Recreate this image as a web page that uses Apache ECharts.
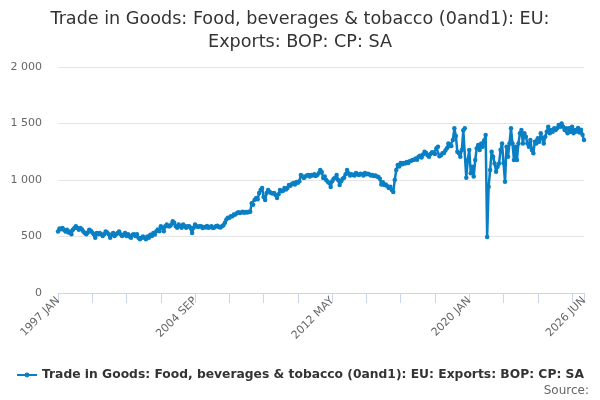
<!DOCTYPE html>
<html>
<head>
<meta charset="utf-8">
<script src="https://cdn.jsdelivr.net/npm/echarts@6/dist/echarts.min.js"></script>
<style>
  html, body { margin: 0; padding: 0; background: #fff; }
  #chart { width: 600px; height: 400px; }
</style>
</head>
<body>
<div id="chart"></div>
<script>
var titleText = 'Trade in Goods: Food, beverages & tobacco (0and1): EU:\nExports: BOP: CP: SA';
var seriesName = 'Trade in Goods: Food, beverages & tobacco (0and1): EU: Exports: BOP: CP: SA';
var monthNames = ['JAN', 'FEB', 'MAR', 'APR', 'MAY', 'JUN', 'JUL', 'AUG', 'SEP', 'OCT', 'NOV', 'DEC'];
var firstYear = 1997;
var yTicks = [0, 500, 1000, 1500, 2000];

// monthly values, one row per year
var v1997 = [545, 570, 565, 575, 560, 545, 560, 535, 545, 520, 560, 575];
var v1998 = [590, 575, 560, 575, 565, 545, 530, 520, 535, 560, 550, 535];
var v1999 = [520, 490, 530, 520, 530, 520, 505, 520, 545, 535, 520, 490];
var v2000 = [515, 530, 505, 520, 530, 545, 520, 505, 515, 530, 505, 520];
var v2001 = [500, 490, 515, 520, 505, 520, 490, 475, 490, 500, 490, 475];
var v2002 = [500, 488, 515, 505, 530, 518, 547, 562, 547, 590, 577, 547];
var v2003 = [591, 606, 591, 591, 606, 636, 621, 591, 577, 606, 591, 577];
var v2004 = [606, 591, 577, 591, 591, 577, 532, 577, 606, 591, 585, 590];
var v2005 = [590, 575, 585, 580, 592, 578, 585, 590, 575, 580, 590, 595];
var v2006 = [585, 580, 590, 600, 621, 650, 665, 665, 680, 680, 695, 695];
var v2007 = [705, 715, 708, 712, 718, 710, 716, 712, 720, 718, 795, 780];
var v2008 = [825, 840, 830, 885, 912, 930, 850, 823, 885, 912, 895, 885];
var v2009 = [880, 885, 867, 840, 875, 912, 900, 905, 929, 915, 930, 956];
var v2010 = [950, 965, 973, 960, 982, 975, 990, 1044, 1030, 1018, 1030, 1040];
var v2011 = [1044, 1030, 1045, 1040, 1050, 1035, 1045, 1060, 1088, 1070, 1018, 1030];
var v2012 = [1000, 985, 973, 938, 990, 1010, 1018, 1044, 1000, 956, 990, 1010];
var v2013 = [1020, 1050, 1088, 1060, 1040, 1050, 1045, 1040, 1062, 1050, 1045, 1055];
var v2014 = [1050, 1040, 1062, 1050, 1055, 1048, 1040, 1045, 1035, 1040, 1030, 1027];
var v2015 = [1010, 960, 980, 956, 960, 945, 929, 940, 912, 894, 1000, 1088];
var v2016 = [1133, 1120, 1150, 1140, 1150, 1145, 1160, 1150, 1165, 1170, 1177, 1180];
var v2017 = [1190, 1180, 1205, 1215, 1200, 1225, 1250, 1240, 1220, 1205, 1230, 1245];
var v2018 = [1240, 1230, 1280, 1295, 1210, 1220, 1236, 1240, 1260, 1280, 1324, 1300];
var v2019 = [1300, 1354, 1457, 1390, 1250, 1240, 1206, 1265, 1440, 1457, 1020, 1177];
var v2020 = [1265, 1059, 1118, 1030, 1177, 1280, 1310, 1265, 1324, 1295, 1350, 1398];
var v2021 = [496, 941, 1088, 1250, 1206, 1147, 1074, 1118, 1147, 1265, 1324, 1150];
var v2022 = [985, 1295, 1206, 1324, 1457, 1324, 1177, 1295, 1177, 1324, 1413, 1442];
var v2023 = [1324, 1413, 1383, 1324, 1295, 1354, 1265, 1236, 1339, 1324, 1369, 1339];
var v2024 = [1413, 1369, 1324, 1383, 1428, 1472, 1413, 1442, 1428, 1457, 1442, 1457];
var v2025 = [1487, 1472, 1501, 1472, 1442, 1457, 1413, 1457, 1428, 1472, 1413, 1442];
var v2026 = [1430, 1460, 1420, 1445, 1400, 1354];

var values = [].concat(v1997, v1998, v1999, v2000, v2001, v2002, v2003, v2004, v2005,
    v2006, v2007, v2008, v2009, v2010, v2011, v2012, v2013, v2014, v2015, v2016,
    v2017, v2018, v2019, v2020, v2021, v2022, v2023, v2024, v2025, v2026);

var months = [];
for (var i = 0; i < values.length; i++) {
    months.push((firstYear + Math.floor(i / 12)) + ' ' + monthNames[i % 12]);
}
var lastIdx = months.length - 1;

function spaced(v) {
    return String(v).replace(/\B(?=(\d{3})+(?!\d))/g, ' ');
}

var chart = echarts.init(document.getElementById('chart'), null, { renderer: 'canvas' });
chart.setOption({
    animation: false,
    textStyle: { fontFamily: 'DejaVu Sans' },
    title: {
        text: titleText,
        left: 'center',
        top: 3,
        textStyle: { fontSize: 17.6, fontWeight: 'normal', color: '#333', lineHeight: 23, fontFamily: 'DejaVu Sans' }
    },
    legend: {
        bottom: 14,
        left: 'center',
        itemWidth: 20,
        itemHeight: 6,
        itemGap: 4,
        textStyle: { fontSize: 12.3, fontWeight: 'bold', color: '#333', fontFamily: 'DejaVu Sans' },
        data: [seriesName]
    },
    graphic: [{
        type: 'text',
        right: 11,
        bottom: 3,
        style: { text: 'Source:', fontSize: 12, fill: '#666', fontFamily: 'DejaVu Sans' }
    }],
    grid: { left: 58, right: 16, top: 67, bottom: 107, containLabel: false },
    xAxis: {
        type: 'category',
        data: months,
        boundaryGap: false,
        axisLine: { lineStyle: { color: '#ccd6eb', width: 1 } },
        axisTick: {
            length: 10,
            lineStyle: { color: '#ccd6eb' },
            interval: function (i) { return i % 23 === 0 || i === lastIdx; }
        },
        axisLabel: {
            rotate: 45,
            color: '#666',
            fontSize: 11,
            margin: 6,
            interval: function (i) { return i % 92 === 0 || i === lastIdx; }
        }
    },
    yAxis: {
        type: 'value',
        min: yTicks[0],
        max: yTicks[yTicks.length - 1],
        interval: 500,
        axisLine: { show: false },
        axisTick: { show: false },
        splitLine: { lineStyle: { color: '#e6e6e6' } },
        axisLabel: { color: '#666', fontSize: 11, margin: 16, formatter: spaced }
    },
    series: [{
        name: seriesName,
        type: 'line',
        data: values,
        color: '#0a7fc4',
        lineStyle: { width: 2.5 },
        symbol: 'circle',
        symbolSize: 4.5,
        showSymbol: true,
        showAllSymbol: true
    }]
});
</script>
</body>
</html>
